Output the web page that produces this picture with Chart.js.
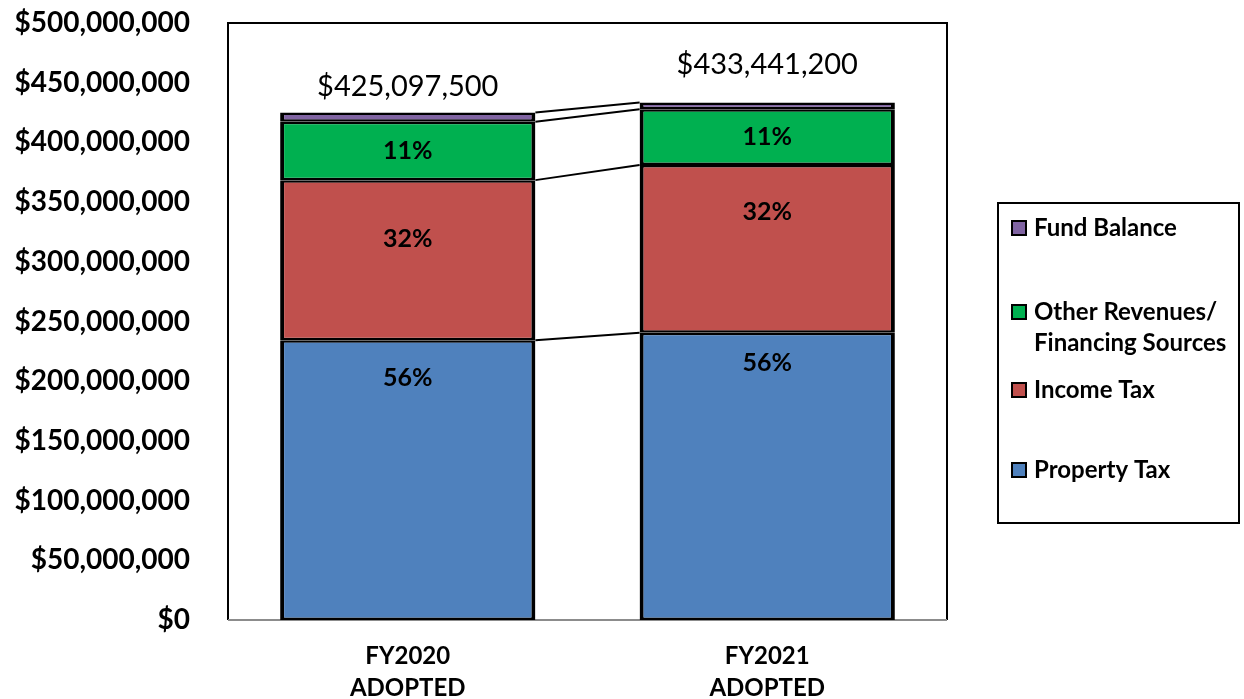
<!DOCTYPE html>
<html>
<head>
<meta charset="utf-8">
<script src="https://cdn.jsdelivr.net/npm/chart.js@4.4.1/dist/chart.umd.min.js"></script>
<style>
  html, body { margin: 0; padding: 0; background: #fff; }
  #wrap { width: 1244px; height: 699px; }
</style>
</head>
<body>
<div id="wrap"><canvas id="budgetChart" width="1244" height="699"></canvas></div>
<script>
// data
const years = [["FY2020", "ADOPTED"], ["FY2021", "ADOPTED"]]
const propertyTax = [234300000, 240600000]
const incomeTax = [134100000, 140400000]
const otherRevenues = [48900000, 46700000]
const fundBalance = [7800000, 5700000]
const totals = [425097500, 433441200]
const propertyPct = ["56%", "56%"]
const incomePct = ["32%", "32%"]
const otherPct = ["11%", "11%"]
const yTicks = [0, 50000000, 100000000, 150000000, 200000000, 250000000,
                300000000, 350000000, 400000000, 450000000, 500000000]

const FONT = "Lato"
const money = v => "$" + v.toLocaleString("en-US")

// box round the plot area
const plotBox = {
  id: "plotBox",
  beforeDatasetsDraw(chart) {
    const a = chart.chartArea, c = chart.ctx
    c.save()
    c.lineWidth = 2
    c.strokeStyle = "#000"
    c.beginPath()
    c.moveTo(a.left, a.bottom)
    c.lineTo(a.left, a.top)
    c.lineTo(a.right, a.top)
    c.lineTo(a.right, a.bottom)
    c.stroke()
    c.strokeStyle = "#8c8c8c"
    c.beginPath()
    c.moveTo(a.left, a.bottom)
    c.lineTo(a.right, a.bottom)
    c.stroke()
    c.restore()
  }
}

// series lines between the two stacks + labels
const extras = {
  id: "extras",
  afterDatasetsDraw(chart) {
    const c = chart.ctx
    c.save()
    c.strokeStyle = "#000"
    c.lineWidth = 2
    chart.data.datasets.forEach((ds, i) => {
      const els = chart.getDatasetMeta(i).data
      const a = els[0], b = els[1]
      c.beginPath()
      c.moveTo(a.x + a.width / 2, a.y)
      c.lineTo(b.x - b.width / 2, b.y)
      c.stroke()
    })

    // percentage labels
    c.fillStyle = "#000"
    c.textAlign = "center"
    c.textBaseline = "middle"
    c.font = "bold 25px " + FONT
    chart.data.datasets.forEach((ds, i) => {
      if (!ds.pct) return
      chart.getDatasetMeta(i).data.forEach((el, j) => {
        const y = el.y + ds.labelAt[j] * (el.base - el.y)
        c.fillText(ds.pct[j], el.x, y)
      })
    })

    // totals above the stacks
    const top = chart.getDatasetMeta(chart.data.datasets.length - 1).data
    const lift = [26, 38]
    c.font = "29px " + FONT
    c.fillStyle = "#000"
    top.forEach((el, j) => c.fillText(money(totals[j]), el.x, el.y - lift[j]))
    c.restore()
  }
}

// legend drawn by hand to keep Excel's spacing
const sideLegend = {
  id: "sideLegend",
  afterDraw(chart) {
    const c = chart.ctx
    const ds = chart.data.datasets
    const rows = [
      { d: ds[3], y: [228] },
      { d: ds[2], y: [312, 343] },
      { d: ds[1], y: [390] },
      { d: ds[0], y: [470] }
    ]
    c.save()
    c.lineWidth = 2
    c.strokeStyle = "#000"
    c.strokeRect(998, 203, 241, 320)
    c.font = "bold 24px " + FONT
    c.textAlign = "left"
    c.textBaseline = "middle"
    rows.forEach(r => {
      const lines = r.d.label.split("\n")
      c.fillStyle = r.d.backgroundColor
      c.fillRect(1012, r.y[0] - 7, 14, 14)
      c.strokeRect(1012, r.y[0] - 7, 14, 14)
      c.fillStyle = "#000"
      lines.forEach((t, k) => c.fillText(t, 1034, r.y[k]))
    })
    c.restore()
  }
}

const border = { top: 2.5, bottom: 2.5, left: 4, right: 4 }
const ctx = document.getElementById("budgetChart").getContext("2d")
const budgetChart = new Chart(ctx, {
  type: "bar",
  data: {
    labels: years,
    datasets: [
      { label: "Property Tax", data: propertyTax, backgroundColor: "#4F81BD",
        pct: propertyPct, labelAt: [0.134, 0.104] },
      { label: "Income Tax", data: incomeTax, backgroundColor: "#C0504D",
        pct: incomePct, labelAt: [0.37, 0.28] },
      { label: "Other Revenues/\nFinancing Sources", data: otherRevenues, backgroundColor: "#00B050",
        pct: otherPct, labelAt: [0.5, 0.5] },
      { label: "Fund Balance", data: fundBalance, backgroundColor: "#8064A2" }
    ]
  },
  options: {
    responsive: false,
    animation: false,
    devicePixelRatio: 1,
    layout: { padding: { top: 23, right: 297, left: 0, bottom: 0 } },
    datasets: {
      bar: {
        categoryPercentage: 1,
        barPercentage: 0.71,
        borderColor: "#000",
        borderWidth: border,
        borderSkipped: false,
        inflateAmount: 0
      }
    },
    plugins: {
      legend: { display: false },
      tooltip: { enabled: false }
    },
    scales: {
      x: {
        stacked: true,
        grid: { display: false, drawTicks: false },
        border: { display: false },
        ticks: {
          padding: 21,
          color: "#000",
          font: { family: FONT, size: 24, weight: "bold", lineHeight: 1.3 }
        },
        afterFit(s) { s.height = 79 }
      },
      y: {
        stacked: true,
        min: 0,
        max: 500000000,
        grid: { display: false, drawTicks: false },
        border: { display: false },
        afterBuildTicks(s) { s.ticks = yTicks.map(v => ({ value: v })) },
        ticks: {
          padding: 38,
          color: "#000",
          font: { family: FONT, size: 28, weight: "bold" },
          callback: v => money(v)
        },
        afterFit(s) {
          s.width = 228
          s.paddingTop = 10
          s.paddingBottom = 10
        }
      }
    }
  },
  plugins: [plotBox, extras, sideLegend]
})
</script>
</body>
</html>
